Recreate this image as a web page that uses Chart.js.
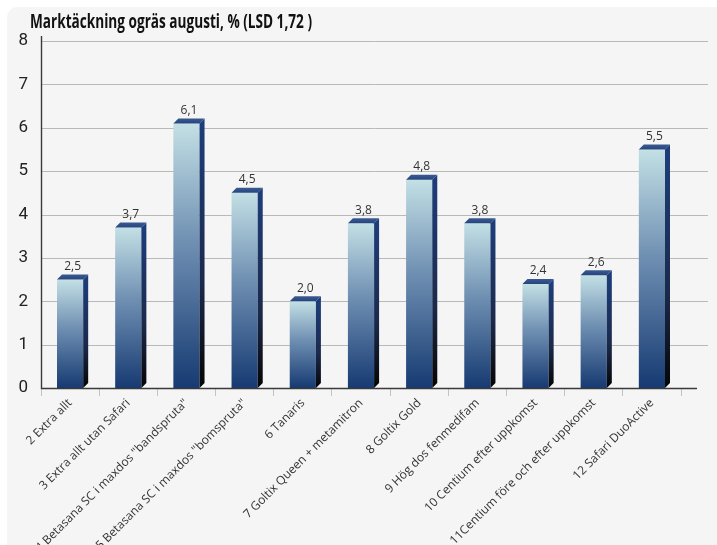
<!DOCTYPE html>
<html>
<head>
<meta charset="utf-8">
<script src="https://cdn.jsdelivr.net/npm/chart.js@4.4.1/dist/chart.umd.min.js"></script>
<style>
  html, body { margin: 0; padding: 0; background: #fff; }
  #wrap { position: relative; width: 717px; height: 545px; }
  #panel { position: absolute; left: 7px; top: 7px; right: 0; bottom: 0; background: #f5f5f5; border-radius: 10px 0 0 0; }
  #chart { position: absolute; left: 0; top: 0; }
</style>
</head>
<body>
<div id="wrap"><div id="panel"></div><canvas id="chart" width="717" height="545"></canvas></div>
<script>
// Data
const chartTitle = 'Marktäckning ogräs augusti, % (LSD 1,72 )';
const categories = [
    '2 Extra allt', '3 Extra allt utan Safari', '4 Betasana SC i maxdos "bandspruta"',
    '5 Betasana SC i maxdos "bomspruta"', '6 Tanaris', '7 Goltix Queen + metamitron',
    '8 Goltix Gold', '9 Hög dos fenmedifam', '10 Centium efter uppkomst',
    '11Centium före och efter uppkomst', '12 Safari DuoActive'
];
const coverValues = [2.5, 3.7, 6.1, 4.5, 2.0, 3.8, 4.8, 3.8, 2.4, 2.6, 5.5];
const yTicks = [0, 1, 2, 3, 4, 5, 6, 7, 8];

const DEPTH = 5;
const GRID_RIGHT = 708;
const AXIS_RIGHT = 697;
const TITLE_WIDTH = 282;

function frontGradient(ctx) {
    const chart = ctx.chart;
    if (!chart.chartArea || ctx.raw === undefined) return '#4a6a9a';
    const y = chart.scales.y;
    const top = y.getPixelForValue(ctx.raw);
    const base = y.getPixelForValue(0);
    const g = chart.ctx.createLinearGradient(0, top, 0, base);
    g.addColorStop(0, '#c3e0e5');
    g.addColorStop(0.45, '#6f8fb2');
    g.addColorStop(1, '#163a72');
    return g;
}

// extended gridlines, axis lines, 3D sides, value labels and title
const bar3d = {
    id: 'bar3d',
    beforeDatasetsDraw(chart) {
        const c = chart.ctx, y = chart.scales.y, area = chart.chartArea;
        c.save();
        c.strokeStyle = '#b9b9b9';
        c.lineWidth = 1;
        y.ticks.forEach(t => {
            if (t.value === 0) return;
            const py = Math.round(y.getPixelForValue(t.value)) + 0.5;
            c.beginPath();
            c.moveTo(area.left, py);
            c.lineTo(GRID_RIGHT, py);
            c.stroke();
        });
        c.restore();
    },
    afterDatasetsDraw(chart) {
        const c = chart.ctx, area = chart.chartArea;
        const meta = chart.getDatasetMeta(0);
        c.save();
        meta.data.forEach((bar, i) => {
            const p = bar.getProps(['x', 'y', 'base', 'width'], true);
            const l = p.x - p.width / 2, r = p.x + p.width / 2;
            // side face
            let g = c.createLinearGradient(0, p.y, 0, p.base);
            g.addColorStop(0, '#1d3d7a');
            g.addColorStop(0.6, '#1b2a4c');
            g.addColorStop(1, '#050505');
            c.fillStyle = g;
            c.beginPath();
            c.moveTo(r, p.y);
            c.lineTo(r + DEPTH, p.y - DEPTH);
            c.lineTo(r + DEPTH, p.base - DEPTH);
            c.lineTo(r, p.base);
            c.closePath();
            c.fill();
            // top face
            g = c.createLinearGradient(0, p.y - DEPTH, 0, p.y);
            g.addColorStop(0, '#3a5a92');
            g.addColorStop(1, '#26457e');
            c.fillStyle = g;
            c.beginPath();
            c.moveTo(l, p.y);
            c.lineTo(l + DEPTH, p.y - DEPTH);
            c.lineTo(r + DEPTH, p.y - DEPTH);
            c.lineTo(r, p.y);
            c.closePath();
            c.fill();
            // value label
            c.fillStyle = '#333';
            c.font = '12px "Open Sans", sans-serif';
            c.textAlign = 'center';
            c.textBaseline = 'bottom';
            c.fillText(coverValues[i].toFixed(1).replace('.', ','), p.x + DEPTH / 2, p.y - DEPTH - 2);
        });
        // axis lines
        const by = Math.round(chart.scales.y.getPixelForValue(0)) + 0.5;
        const lx = Math.round(area.left) + 0.5;
        c.strokeStyle = '#3a3a3a';
        c.lineWidth = 1.4;
        c.beginPath();
        c.moveTo(lx, area.top - 5);
        c.lineTo(lx, by);
        c.lineTo(AXIS_RIGHT, by);
        c.stroke();
        // title, squeezed to the condensed width of the original
        c.fillStyle = '#111';
        c.font = 'bold 19px "Open Sans", sans-serif';
        c.textAlign = 'left';
        c.textBaseline = 'alphabetic';
        const w = c.measureText(chartTitle).width;
        c.translate(30, 28);
        c.scale(TITLE_WIDTH / w, 1);
        c.fillText(chartTitle, 0, 0);
        c.restore();
    }
};

new Chart(document.getElementById('chart'), {
    type: 'bar',
    data: {
        labels: categories,
        datasets: [{
            data: coverValues,
            backgroundColor: frontGradient,
            borderWidth: 0,
            barPercentage: 0.45,
            categoryPercentage: 1
        }]
    },
    options: {
        responsive: false,
        animation: false,
        layout: { padding: { left: 14, right: 36, top: 41, bottom: 0 } },
        plugins: {
            legend: { display: false },
            tooltip: { enabled: false }
        },
        scales: {
            x: {
                grid: { display: true, drawOnChartArea: false, color: '#c4c4c4', tickLength: 8 },
                border: { display: false },
                ticks: {
                    autoSkip: false,
                    maxRotation: 45,
                    minRotation: 45,
                    color: '#333',
                    padding: 0,
                    font: { family: '"Open Sans", sans-serif', size: 12 }
                },
                afterFit(scale) { scale.height = 157; }
            },
            y: {
                min: 0,
                max: 8,
                afterBuildTicks(scale) { scale.ticks = yTicks.map(v => ({ value: v })); },
                grid: { display: false },
                border: { display: false },
                ticks: {
                    color: '#222',
                    padding: 5,
                    font: { family: 'Roboto, sans-serif', size: 17 }
                },
                afterFit(scale) { scale.width = 27; }
            }
        }
    },
    plugins: [bar3d]
});
</script>
</body>
</html>
